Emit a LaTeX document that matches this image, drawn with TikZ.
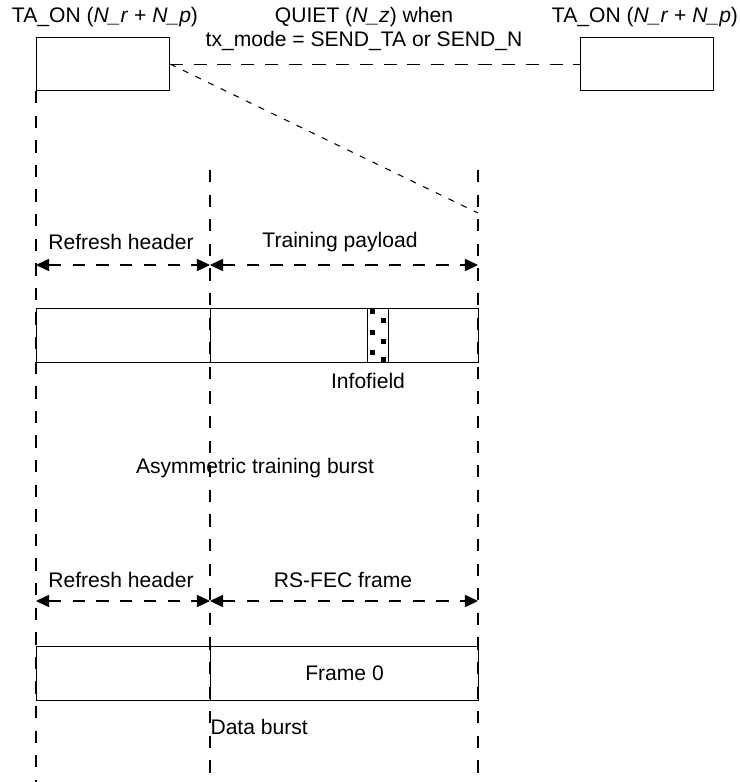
\documentclass[tikz,border=0pt]{standalone}
\usepackage{fontspec}
\setmainfont{Liberation Sans}
\usetikzlibrary{arrows.meta}

\newcommand{\pxu}{0.02cm}

\begin{document}
\begin{tikzpicture}[x=0.02cm, y=-0.02cm, line width=0.6pt,
        burst box/.style={draw, rectangle, inner sep=0pt, anchor=north west,
            font=\fontsize{12}{14}\selectfont},
        label text/.style={inner sep=0pt, font=\fontsize{12}{14}\selectfont},
        guide line/.style={dash pattern=on 7pt off 7pt},
        quiet line/.style={dash pattern=on 7.5pt off 6pt},
        link line/.style={dash pattern=on 3.5pt off 4.5pt},
        span arrow/.style={{Triangle[length=7.5pt,width=7pt]}-{Triangle[length=7.5pt,width=7pt]},
            dash pattern=on 7pt off 6.5pt}]

    \useasboundingbox (0,0) rectangle (740,782);

    % Top: TA_ON / QUIET
    \node[burst box, minimum width=133*\pxu, minimum height=53*\pxu] (onL) at (36,37) {};
    \node[burst box, minimum width=133*\pxu, minimum height=53*\pxu] (onR) at (580,37) {};
    \node[label text, anchor=base] (tonL) at (105,22) {TA\_ON (\textit{N\_r} + \textit{N\_p})};
    \node[label text, anchor=base] (tonR) at (645,22) {TA\_ON (\textit{N\_r} + \textit{N\_p})};
    \node[label text, anchor=base] (quiet1) at (364,22) {QUIET (\textit{N\_z}) when};
    \node[label text, anchor=base] (quiet2) at (364,46) {tx\_mode = SEND\_TA or SEND\_N};
    \draw[quiet line] (onL.east) -- (onR.west);

    % Guide lines
    \coordinate (gLbot) at (36,782);
    \coordinate (gMtop) at (210,170);
    \coordinate (gMbot) at (210,782);
    \coordinate (gRtop) at (478,170);
    \coordinate (gRbot) at (478,782);
    \coordinate (zoomEnd) at (478,213);
    \draw[guide line] (onL.south west) -- (gLbot);
    \draw[guide line] (gMtop) -- (gMbot);
    \draw[guide line] (gRtop) -- (gRbot);
    \draw[link line] (onL.east) -- (zoomEnd);

    % Asymmetric training burst
    \coordinate (a1) at (36,265);
    \coordinate (a2) at (210,265);
    \coordinate (a3) at (478,265);
    \draw[span arrow] (a1) -- (a2);
    \draw[span arrow] (a2) -- (a3);
    \node[label text] (hdrTxtA) at (121,242) {Refresh header};
    \node[label text] (payTxt) at (340,242) {Training payload};

    \node[burst box, minimum width=174*\pxu, minimum height=54*\pxu] (hdrA) at (36,308) {};
    \node[burst box, minimum width=268*\pxu, minimum height=54*\pxu] (payA) at (210,308) {};
    \node[burst box, minimum width=21*\pxu, minimum height=54*\pxu] (info) at (367,308) {};
    \foreach \yy in {309,330,350}
        \fill (370,\yy) rectangle ++(5,5);
    \foreach \yy in {318,339,357}
        \fill (381,\yy) rectangle ++(5,5);
    \node[label text] (infoTxt) at (368,381) {Infofield};
    \node[label text] (asymTxt) at (255,468) {Asymmetric training burst};

    % Data burst
    \coordinate (b1) at (36,601);
    \coordinate (b2) at (210,601);
    \coordinate (b3) at (478,601);
    \draw[span arrow] (b1) -- (b2);
    \draw[span arrow] (b2) -- (b3);
    \node[label text] (hdrTxtB) at (121,580) {Refresh header};
    \node[label text] (fecTxt) at (343,580) {RS-FEC frame};

    \node[burst box, minimum width=174*\pxu, minimum height=54*\pxu] (hdrB) at (36,646) {};
    \node[burst box, minimum width=268*\pxu, minimum height=54*\pxu] (frm) at (210,646) {Frame 0};
    \node[label text, anchor=west] (dataTxt) at (210,727) {Data burst};
\end{tikzpicture}
\end{document}
